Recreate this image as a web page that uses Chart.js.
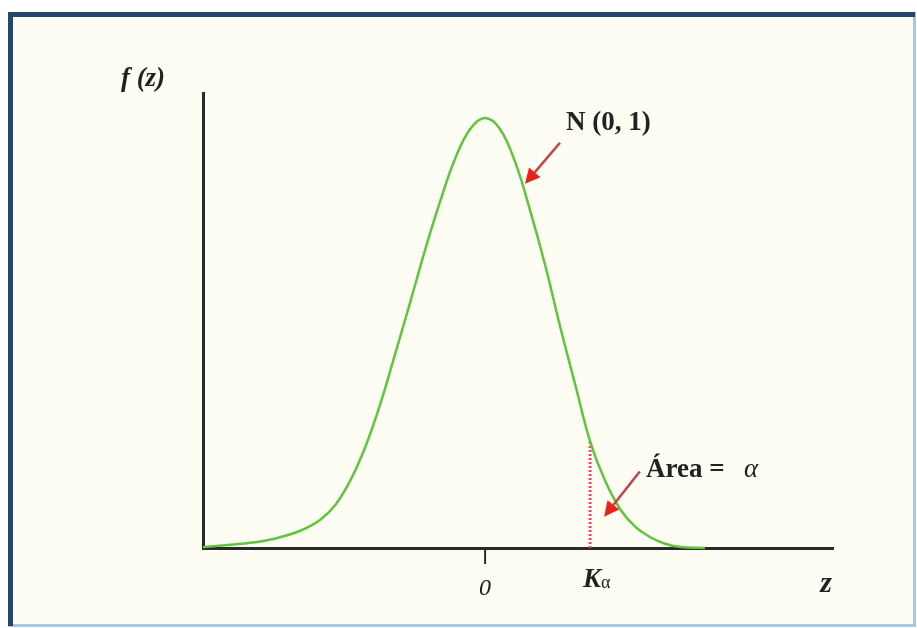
<!DOCTYPE html>
<html>
<head>
<meta charset="utf-8">
<title>N (0, 1)</title>
<script src="https://cdn.jsdelivr.net/npm/chart.js@4.4.1/dist/chart.umd.min.js"></script>
<style>
  html, body { margin: 0; padding: 0; background: #ffffff; }
  canvas { display: block; }
</style>
</head>
<body>
<canvas id="normalChart" width="917" height="628"></canvas>
<script>
// points: z and f(z)
const zValues = [-4.03, -3.64, -3.21, -2.93, -2.64, -2.36, -2.14, -1.93, -1.71, -1.50, -1.29, -1.07, -0.86, -0.64, -0.43, -0.21, 0, 0.21, 0.43, 0.64, 0.86, 1.07, 1.29, 1.50, 1.71, 1.93, 2.14, 2.36, 2.57, 2.79, 3.14];
const densityValues = [0.001, 0.003, 0.006, 0.010, 0.016, 0.026, 0.040, 0.062, 0.094, 0.133, 0.179, 0.228, 0.276, 0.322, 0.361, 0.389, 0.399, 0.389, 0.358, 0.314, 0.262, 0.206, 0.151, 0.099, 0.063, 0.036, 0.020, 0.010, 0.004, 0.001, 0.000];

// critical value K_alpha and the dotted line under the curve
const criticalZ = [1.5, 1.5];
const criticalHeight = [0, 0.099];

// x axis labels
const tickValues = [0, 1.5];
const tickLabels = ['0', 'K'];
const tickSubscripts = ['', 'α'];

const colors = {
    curve: '#5fc53e',
    axis: '#2a2a2a',
    dotted: '#ea4a62',
    arrowLine: '#c8404c',
    arrowHead: '#e8231e',
    text: '#222222',
    paper: '#fdfdf3',
    frameDark: '#27466f',
    frameLight: '#a9c6e2'
};

const framePlugin = {
    id: 'frame',
    beforeDraw(chart) {
        const ctx = chart.ctx;
        ctx.save();
        ctx.fillStyle = '#ffffff';
        ctx.fillRect(0, 0, chart.width, chart.height);
        ctx.fillStyle = colors.paper;
        ctx.fillRect(10, 14, 904, 611);
        ctx.fillStyle = colors.frameLight;
        ctx.fillRect(913, 12, 3, 615);
        ctx.fillRect(8, 624, 908, 3);
        ctx.fillStyle = colors.frameDark;
        ctx.fillRect(8, 12, 907, 5);
        ctx.fillRect(8, 12, 5, 614);
        ctx.restore();
    }
};

function drawArrow(ctx, x1, y1, x2, y2) {
    const ang = Math.atan2(y2 - y1, x2 - x1);
    const headLen = 15;
    const bx = x2 - headLen * Math.cos(ang);
    const by = y2 - headLen * Math.sin(ang);
    ctx.strokeStyle = colors.arrowLine;
    ctx.lineWidth = 2.5;
    ctx.beginPath();
    ctx.moveTo(x1, y1);
    ctx.lineTo(bx, by);
    ctx.stroke();
    ctx.fillStyle = colors.arrowHead;
    ctx.beginPath();
    ctx.moveTo(x2, y2);
    ctx.lineTo(bx + 7.5 * Math.sin(ang), by - 7.5 * Math.cos(ang));
    ctx.lineTo(bx - 7.5 * Math.sin(ang), by + 7.5 * Math.cos(ang));
    ctx.closePath();
    ctx.fill();
}

const labelPlugin = {
    id: 'labels',
    afterDatasetsDraw(chart) {
        const { ctx, scales: { x, y } } = chart;
        ctx.save();

        // tick mark at z = 0
        const x0 = x.getPixelForValue(tickValues[0]);
        ctx.strokeStyle = colors.axis;
        ctx.lineWidth = 2;
        ctx.beginPath();
        ctx.moveTo(x0, y.bottom);
        ctx.lineTo(x0, y.bottom + 16);
        ctx.stroke();

        ctx.fillStyle = colors.text;
        ctx.textBaseline = 'alphabetic';

        // "0"
        ctx.font = 'italic 24px "Liberation Serif"';
        ctx.textAlign = 'center';
        ctx.fillText(tickLabels[0], x0, 595);

        // K alpha
        const xk = x.getPixelForValue(tickValues[1]);
        ctx.font = 'italic bold 27px "Liberation Serif"';
        ctx.textAlign = 'right';
        ctx.fillText(tickLabels[1], xk + 11, 587);
        ctx.font = '18px "Liberation Serif"';
        ctx.textAlign = 'left';
        ctx.fillText(tickSubscripts[1], xk + 11, 588);

        // axis names
        ctx.font = 'italic bold 30px "Liberation Serif"';
        ctx.textAlign = 'center';
        ctx.fillText('z', 826, 592);
        ctx.font = 'italic bold 27px "Liberation Serif"';
        ctx.fillText('f (z)', 143, 86);

        // annotations
        ctx.font = 'bold 27px "Liberation Serif"';
        ctx.textAlign = 'left';
        ctx.fillText('N (0, 1)', 566, 130);
        ctx.fillText('Área =', 646, 477);
        ctx.font = 'italic 27px "Liberation Serif"';
        ctx.fillText('α', 744, 477);

        drawArrow(ctx, x.getPixelForValue(1.07), y.getPixelForValue(0.376),
            x.getPixelForValue(0.57), y.getPixelForValue(0.338));
        drawArrow(ctx, x.getPixelForValue(2.21), y.getPixelForValue(0.071),
            x.getPixelForValue(1.70), y.getPixelForValue(0.029));

        ctx.restore();
    }
};

const ctx = document.getElementById('normalChart').getContext('2d');
new Chart(ctx, {
    type: 'line',
    data: {
        datasets: [
            {
                data: zValues.map((z, i) => ({ x: z, y: densityValues[i] })),
                borderColor: colors.curve,
                borderWidth: 2.5,
                pointRadius: 0,
                tension: 0.4,
                fill: false,
                clip: false
            },
            {
                data: criticalZ.map((z, i) => ({ x: z, y: criticalHeight[i] })),
                borderColor: colors.dotted,
                borderWidth: 3,
                borderDash: [2, 2],
                pointRadius: 0,
                fill: false,
                clip: false
            }
        ]
    },
    options: {
        responsive: false,
        animation: false,
        devicePixelRatio: 1,
        layout: { padding: { left: 203, right: 84, top: 93, bottom: 80 } },
        plugins: {
            legend: { display: false },
            tooltip: { enabled: false }
        },
        scales: {
            x: {
                type: 'linear',
                min: -4.03,
                max: 4.97,
                ticks: { display: false },
                grid: { display: false, drawTicks: false },
                border: { display: true, color: colors.axis, width: 3 }
            },
            y: {
                min: 0,
                max: 0.4222,
                ticks: { display: false },
                grid: { display: false, drawTicks: false },
                border: { display: true, color: colors.axis, width: 3 }
            }
        }
    },
    plugins: [framePlugin, labelPlugin]
});
</script>
</body>
</html>
